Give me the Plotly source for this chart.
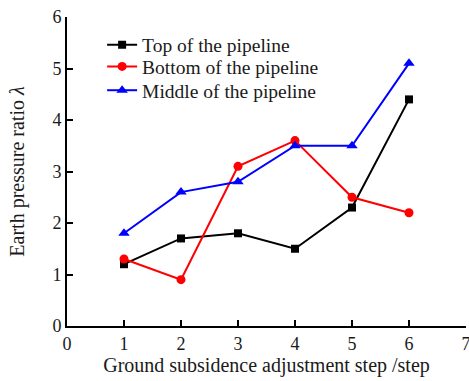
import plotly.graph_objects as go

steps = [1, 2, 3, 4, 5, 6]
top_vals = [1.2, 1.7, 1.8, 1.5, 2.3, 4.4]
bottom_vals = [1.3, 0.9, 3.1, 3.6, 2.5, 2.2]
middle_vals = [1.8, 2.6, 2.8, 3.5, 3.5, 5.1]

series_names = ["Top of the pipeline", "Bottom of the pipeline", "Middle of the pipeline"]

x_ticks = [0, 1, 2, 3, 4, 5, 6, 7]
y_ticks = [0, 1, 2, 3, 4, 5, 6]

FONT = "Times New Roman"
TEXT = "#1a1a1a"

styles = [
    dict(color="black", symbol="square", size=8),
    dict(color="#ff0000", symbol="circle", size=9),
    dict(color="#0000ff", symbol="triangle-up", size=10),
]
legend_ids = ["legend", "legend2", "legend3"]
legend_y = [0.909, 0.839, 0.762]

fig = go.Figure()
for vals, name, st, lid in zip([top_vals, bottom_vals, middle_vals], series_names, styles, legend_ids):
    fig.add_trace(go.Scatter(
        x=steps, y=vals, name=name, mode="lines+markers", legend=lid,
        line=dict(color=st["color"], width=2),
        marker=dict(symbol=st["symbol"], size=st["size"], color=st["color"]),
    ))

legend_common = dict(
    x=0.088, xanchor="left", yanchor="middle",
    bgcolor="rgba(0,0,0,0)", font=dict(family=FONT, size=19.5, color=TEXT),
    itemwidth=30,
)

fig.update_layout(
    template="none",
    width=469, height=381,
    margin=dict(l=67, r=3, t=17, b=55),
    paper_bgcolor="white", plot_bgcolor="white",
    font=dict(family=FONT, size=18, color=TEXT),
    showlegend=True,
    legend=dict(y=legend_y[0], **legend_common),
    legend2=dict(y=legend_y[1], **legend_common),
    legend3=dict(y=legend_y[2], **legend_common),
    xaxis=dict(
        range=[0, 7], tickvals=x_ticks, ticktext=[str(v) for v in x_ticks],
        showgrid=False, zeroline=False, showline=True, linecolor="black", linewidth=2,
        ticks="inside", ticklen=6, tickwidth=2, tickcolor="black",
        ticklabeloverflow="allow", automargin=False,
        tickfont=dict(family=FONT, size=18, color=TEXT),
        title=dict(text="Ground subsidence adjustment step /step", standoff=4,
                   font=dict(family=FONT, size=20, color=TEXT)),
    ),
    yaxis=dict(
        range=[0, 6], tickvals=y_ticks, ticktext=[str(v) for v in y_ticks],
        showgrid=False, zeroline=False, showline=True, linecolor="black", linewidth=2,
        ticks="inside", ticklen=6, tickwidth=2, tickcolor="black",
        automargin=False,
        tickfont=dict(family=FONT, size=18, color=TEXT),
        title=dict(text="Earth pressure ratio <i>λ</i>", standoff=22,
                   font=dict(family=FONT, size=20, color=TEXT)),
    ),
)

fig.write_html("out.html")
